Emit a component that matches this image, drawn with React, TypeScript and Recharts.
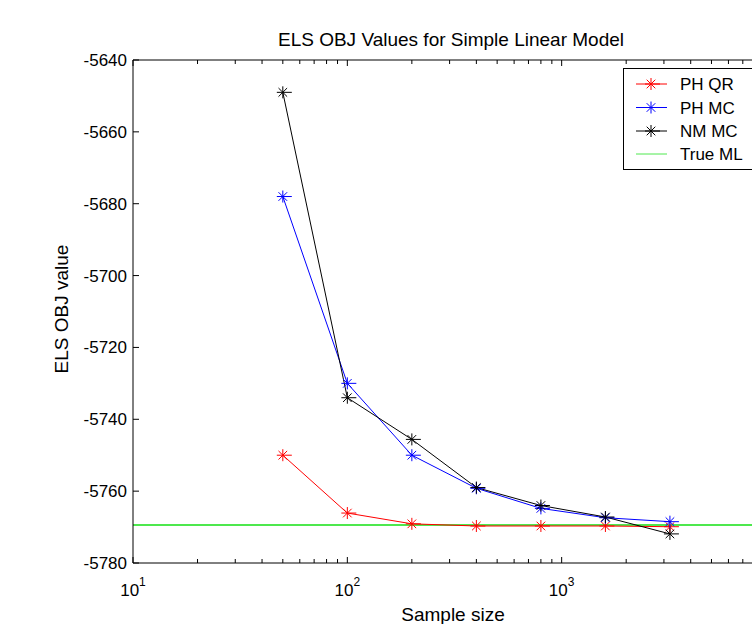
import React from "react";
import { LineChart, Line, XAxis, YAxis, ReferenceLine } from "recharts";

const sampleSizes = [50, 100, 200, 400, 800, 1600, 3200];
const phQR = [-5750, -5766.1, -5769.1, -5769.7, -5769.7, -5769.7, -5769.9];
const phMC = [-5678, -5730, -5750, -5759.2, -5764.8, -5767.4, -5768.5];
const nmMC = [-5649, -5734, -5745.6, -5759, -5764, -5767.2, -5771.9];
const trueML = -5769.4;

const yTicks = [-5780, -5760, -5740, -5720, -5700, -5680, -5660, -5640];
const xTicks = [
  10, 20, 30, 40, 50, 60, 70, 80, 90,
  100, 200, 300, 400, 500, 600, 700, 800, 900,
  1000, 2000, 3000, 4000, 5000, 6000, 7000, 8000, 9000, 10000,
];
const majorX = [10, 100, 1000, 10000];
const labelledX = [10, 100, 1000];

const series = [
  { key: "phQR", name: "PH QR", color: "#ff0000", values: phQR },
  { key: "phMC", name: "PH MC", color: "#0000ff", values: phMC },
  { key: "nmMC", name: "NM MC", color: "#000000", values: nmMC },
];
const trueColor = "#4ee84e";

const data = sampleSizes.map((n, i) => ({
  n,
  phQR: phQR[i],
  phMC: phMC[i],
  nmMC: nmMC[i],
}));

const FONT = "'Liberation Sans', Arial, sans-serif";

function Star({ cx, cy, color }: any) {
  const r = 6;
  const d = 4.3;
  return (
    <g stroke={color} strokeWidth={1} fill="none">
      <line x1={cx - r} y1={cy} x2={cx + r + 3} y2={cy} />
      <line x1={cx} y1={cy - r} x2={cx} y2={cy + r} />
      <line x1={cx - d} y1={cy - d} x2={cx + d} y2={cy + d} />
      <line x1={cx - d} y1={cy + d} x2={cx + d} y2={cy - d} />
    </g>
  );
}

const makeDot = (color: string) => (props: any) => (
  <Star key={props.index} cx={props.cx} cy={props.cy} color={color} />
);

function BottomTick({ x, y, payload }: any) {
  const v = payload.value;
  const major = majorX.includes(v);
  const exp = Math.round(Math.log10(v));
  return (
    <g>
      <line x1={x} y1={y} x2={x} y2={y - (major ? 6 : 4)} stroke="#000" />
      {labelledX.includes(v) && (
        <text x={x} y={y + 33} textAnchor="middle" fontFamily={FONT} fontSize={17} fill="#000">
          <tspan>10</tspan>
          <tspan dy={-10} fontSize={12}>{exp}</tspan>
        </text>
      )}
    </g>
  );
}

function TopTick({ x, y, payload }: any) {
  const major = majorX.includes(payload.value);
  return <line x1={x} y1={y} x2={x} y2={y + (major ? 6 : 4)} stroke="#000" />;
}

function LeftTick({ x, y, payload }: any) {
  return (
    <g>
      <line x1={x} y1={y} x2={x + 6} y2={y} stroke="#000" />
      <text x={x - 6} y={y} dy={6} textAnchor="end" fontFamily={FONT} fontSize={17} fill="#000">
        {payload.value}
      </text>
    </g>
  );
}

export default function App() {
  return (
    <div
      style={{
        position: "absolute",
        left: 0,
        top: 0,
        width: 752,
        height: 624,
        overflow: "hidden",
        background: "#fff",
      }}
    >
      <LineChart width={800} height={624} data={data} margin={{ top: 30, right: 0, bottom: 0, left: 0 }}>
        <XAxis
          dataKey="n"
          type="number"
          scale="log"
          domain={[10, 10000]}
          ticks={xTicks}
          interval={0}
          tickSize={0}
          tickMargin={0}
          tickLine={false}
          tick={BottomTick}
          height={61}
          axisLine={{ stroke: "#000" }}
          label={() => (
            <text x={453} y={621} textAnchor="middle" fontFamily={FONT} fontSize={19} fill="#000">
              Sample size
            </text>
          )}
        />
        <XAxis
          xAxisId="top"
          orientation="top"
          dataKey="n"
          type="number"
          scale="log"
          domain={[10, 10000]}
          ticks={xTicks}
          interval={0}
          tickSize={0}
          tickMargin={0}
          tickLine={false}
          tick={TopTick}
          height={30}
          axisLine={{ stroke: "#000" }}
          label={() => (
            <text x={451} y={46} textAnchor="middle" fontFamily={FONT} fontSize={19} fill="#000">
              ELS OBJ Values for Simple Linear Model
            </text>
          )}
        />
        <YAxis
          type="number"
          domain={[-5780, -5640]}
          ticks={yTicks}
          interval={0}
          tickSize={0}
          tickMargin={0}
          tickLine={false}
          tick={LeftTick}
          width={133}
          axisLine={{ stroke: "#000" }}
          label={() => (
            <text
              x={68}
              y={309}
              transform="rotate(-90 68 309)"
              textAnchor="middle"
              fontFamily={FONT}
              fontSize={19}
              fill="#000"
            >
              ELS OBJ value
            </text>
          )}
        />
        <YAxis
          yAxisId="r"
          orientation="right"
          type="number"
          domain={[-5780, -5640]}
          ticks={yTicks}
          tick={false}
          tickLine={false}
          width={24}
          axisLine={{ stroke: "#000" }}
        />
        <ReferenceLine y={trueML} stroke={trueColor} strokeWidth={2} />
        {series.map((s) => (
          <Line
            key={s.key}
            dataKey={s.key}
            name={s.name}
            stroke={s.color}
            strokeWidth={1}
            dot={makeDot(s.color)}
            activeDot={false}
            isAnimationActive={false}
          />
        ))}
      </LineChart>
      <svg
        style={{ position: "absolute", left: 623, top: 68 }}
        width={140}
        height={102}
      >
        <rect x={0.5} y={0.5} width={160} height={101} fill="#fff" stroke="#000" />
        {series.map((s, i) => (
          <g key={s.key}>
            <line x1={13} y1={16 + i * 23.5} x2={44} y2={16 + i * 23.5} stroke={s.color} />
            <Star cx={28} cy={16 + i * 23.5} color={s.color} />
            <text x={57} y={16 + i * 23.5 + 6} fontFamily={FONT} fontSize={17} fill="#000">
              {s.name}
            </text>
          </g>
        ))}
        <line x1={13} y1={86} x2={44} y2={86} stroke={trueColor} />
        <text x={57} y={92} fontFamily={FONT} fontSize={17} fill="#000">
          True ML
        </text>
      </svg>
    </div>
  );
}
